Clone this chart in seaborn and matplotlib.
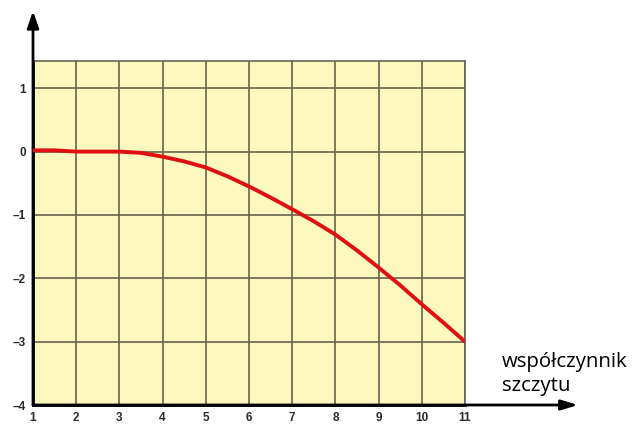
import matplotlib
matplotlib.use("Agg")
import matplotlib.pyplot as plt
import seaborn as sns
import pandas as pd

# data
crest_factor = [1, 1.5, 2, 2.5, 3, 3.5, 4, 4.5, 5, 5.5, 6, 6.5, 7, 7.5, 8, 8.5, 9, 9.5, 10, 10.5, 11]
value = [0.02, 0.02, 0.0, 0.0, 0.0, -0.02, -0.08, -0.155, -0.25, -0.39, -0.55, -0.725, -0.91, -1.10, -1.31, -1.56, -1.83, -2.11, -2.41, -2.70, -3.0]
x_ticks = [1, 2, 3, 4, 5, 6, 7, 8, 9, 10, 11]
y_ticks = [-4, -3, -2, -1, 0, 1]
axis_label = ["współczynnik", "szczytu"]

sns.set_style("white")
plt.rcParams['font.family'] = ['Liberation Sans', 'DejaVu Sans']

fig = plt.figure(figsize=(6.32, 4.25), dpi=100)
ax = fig.add_axes([33/632, 1-405/425, 432/632, 344/425])
ax.set_facecolor("#FDF8C0")

df = pd.DataFrame({"x": crest_factor, "y": value})
sns.lineplot(data=df, x="x", y="y", ax=ax, color="#E01010", linewidth=2.8, zorder=5)

ax.set_xlim(1, 11)
ax.set_ylim(-4, 1.43)
ax.set_xticks(x_ticks)
ax.set_yticks(y_ticks)
ax.set_xticklabels([str(t) for t in x_ticks])
ax.set_yticklabels([str(t).replace("-", "\u2013") for t in y_ticks])
ax.grid(True, color="#666450", linewidth=1.2)
ax.set_axisbelow(True)
ax.set_xlabel("")
ax.set_ylabel("")
ax.tick_params(axis="both", length=0, labelsize=8.5, labelcolor="#2B2B2B")
ax.tick_params(axis="x", pad=5)
ax.tick_params(axis="y", pad=5)
for lab in ax.get_xticklabels() + ax.get_yticklabels():
    lab.set_fontweight("bold")

for s in ["top", "right"]:
    ax.spines[s].set_color("#666450")
    ax.spines[s].set_linewidth(1.2)
for s in ["left", "bottom"]:
    ax.spines[s].set_color("black")
    ax.spines[s].set_linewidth(2.0)

# axis arrows
ax.annotate("", xy=(0, 1.145), xytext=(0, 0), xycoords="axes fraction",
            arrowprops=dict(arrowstyle="-|>,head_length=1.0,head_width=0.35", color="black", lw=2.0, shrinkA=0, shrinkB=0),
            annotation_clip=False)
ax.annotate("", xy=(1.262, 0), xytext=(0, 0), xycoords="axes fraction",
            arrowprops=dict(arrowstyle="-|>,head_length=1.0,head_width=0.3", color="black", lw=2.0, shrinkA=0, shrinkB=0),
            annotation_clip=False)

fig.text(502/632, 1-367/425, axis_label[0], fontsize=14.7, color="black",
         family=["Open Sans", "DejaVu Sans"], ha="left", va="baseline")
fig.text(502/632, 1-391/425, axis_label[1], fontsize=14.7, color="black",
         family=["Open Sans", "DejaVu Sans"], ha="left", va="baseline")

fig.savefig("out.png", dpi=100, facecolor="white")
